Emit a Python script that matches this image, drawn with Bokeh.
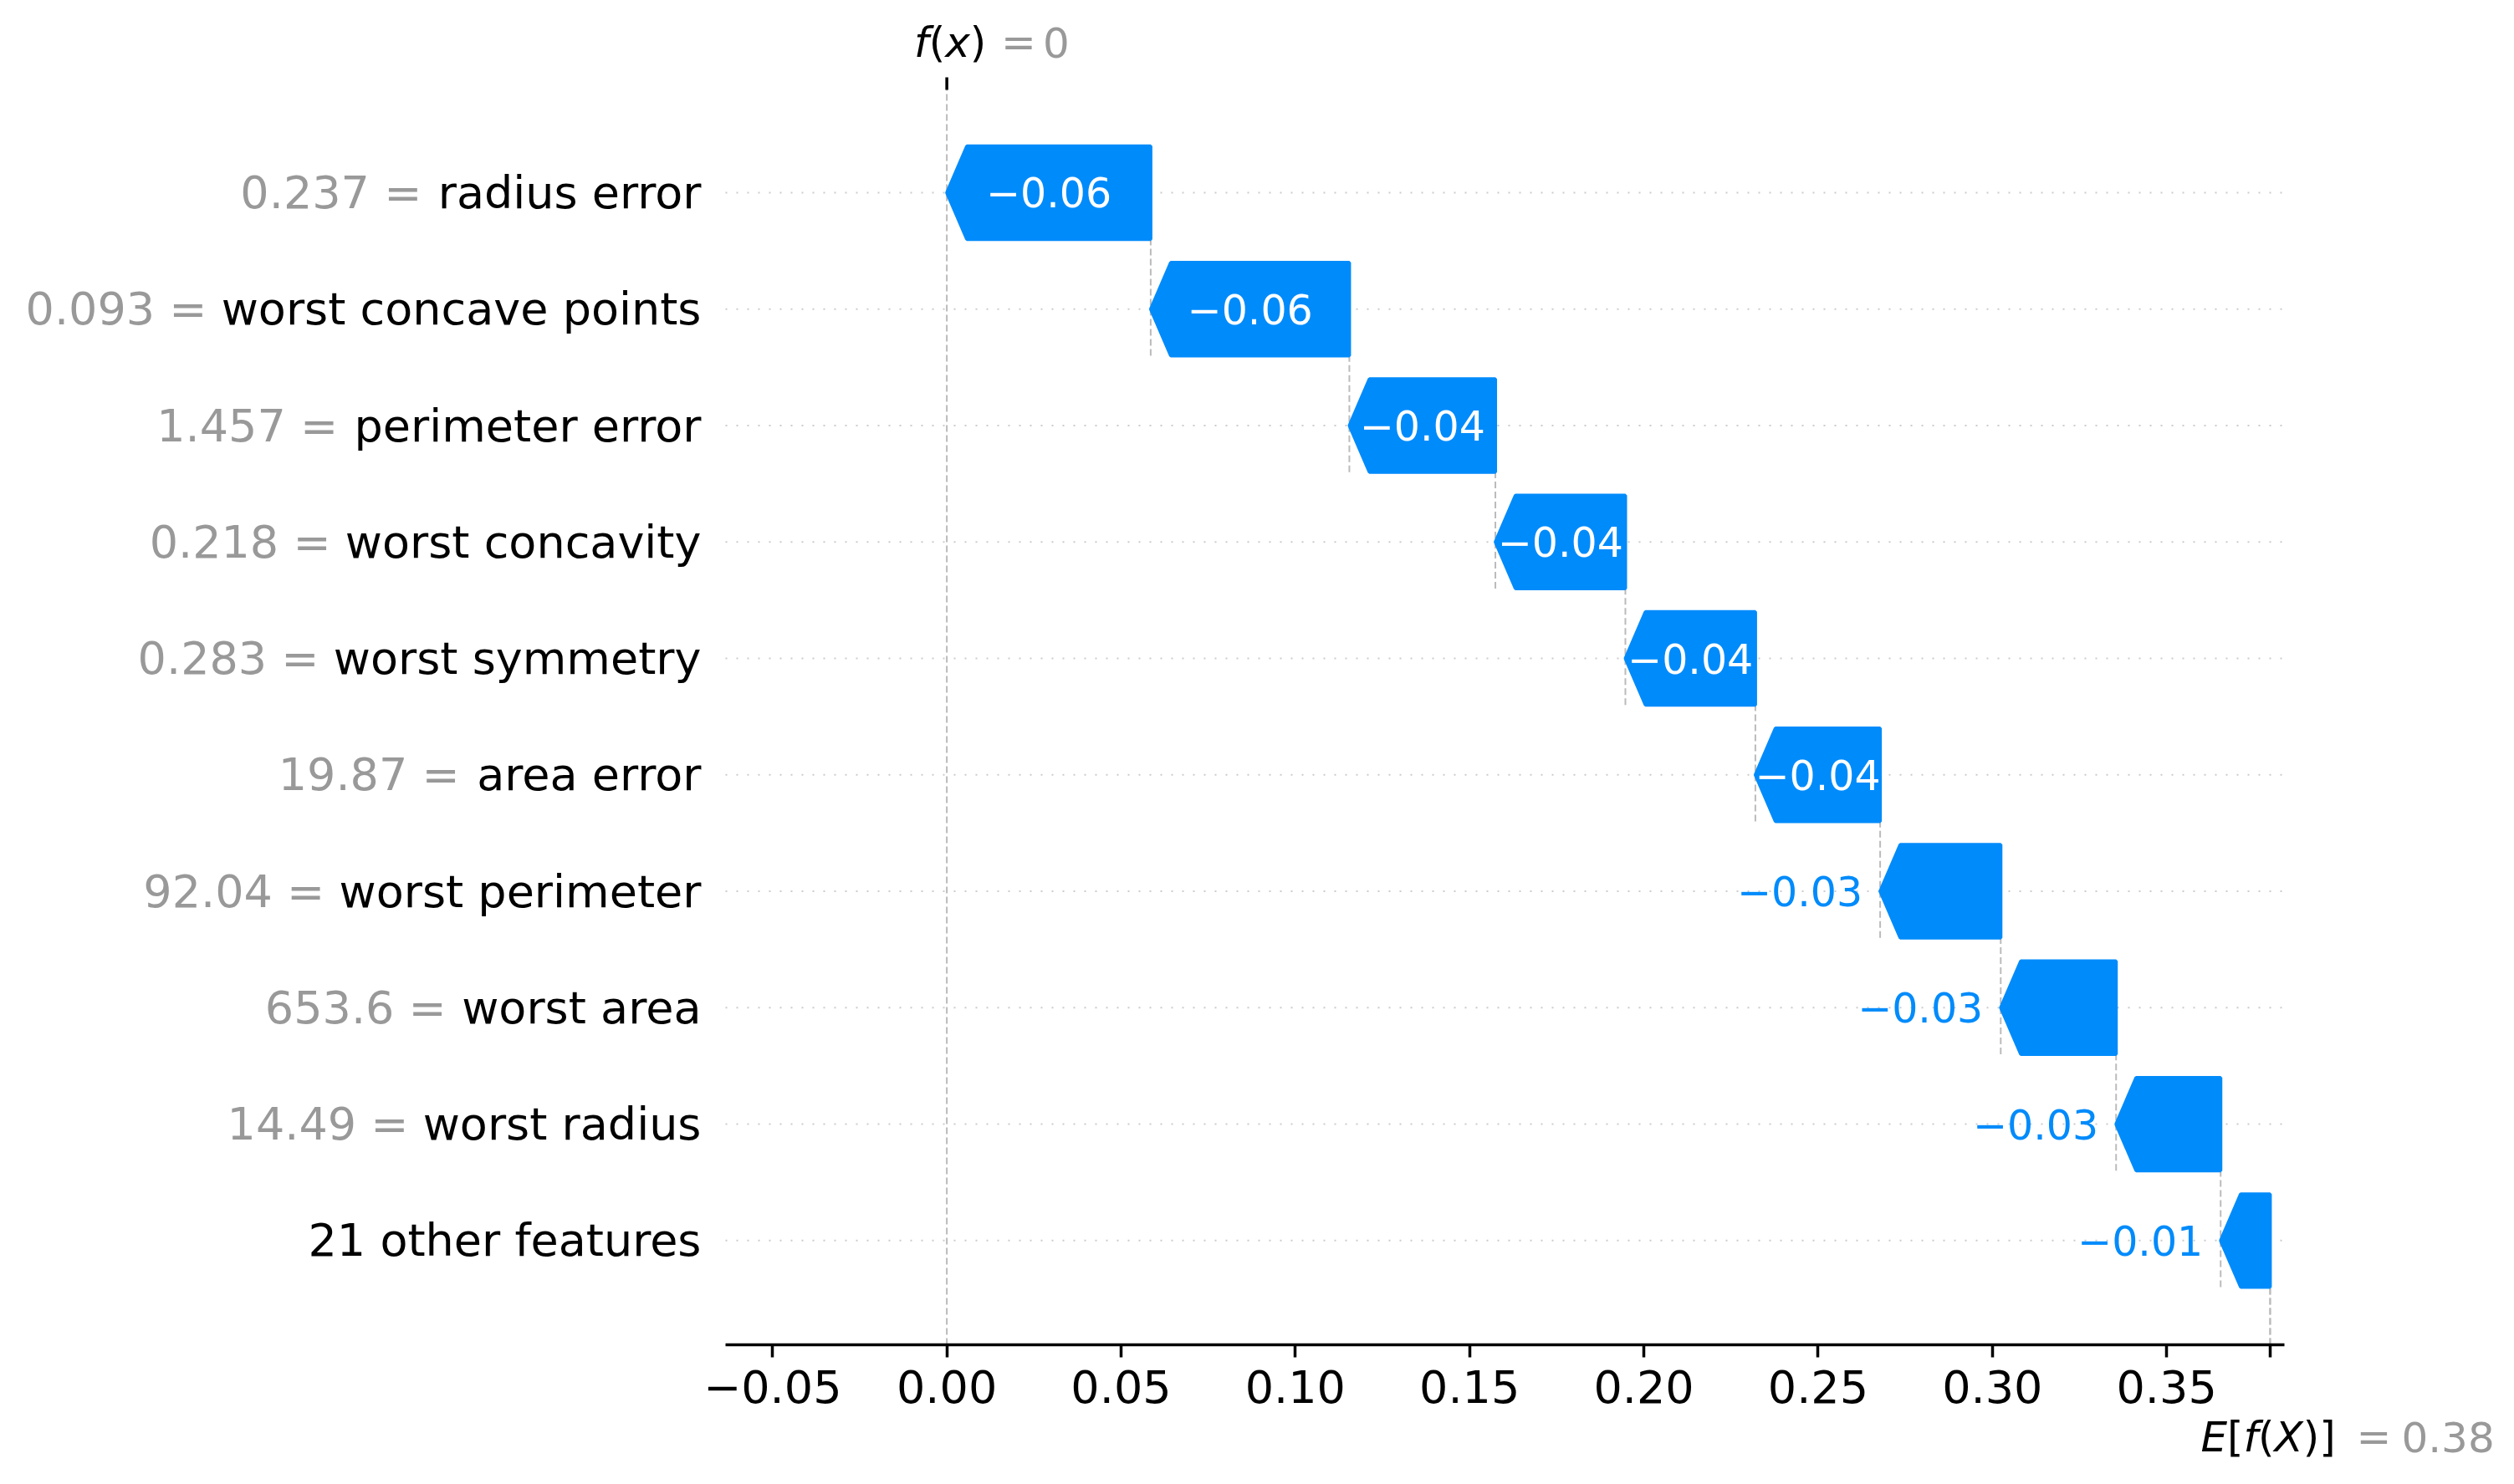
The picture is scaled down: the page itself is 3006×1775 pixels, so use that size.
from bokeh.plotting import figure
from bokeh.models import Range1d, FixedTicker
from bokeh.embed import file_html
from bokeh.resources import INLINE
from bokeh.core.properties import value

# ---------------- data ----------------
feature_names = ["radius error", "worst concave points", "perimeter error", "worst concavity",
                 "worst symmetry", "area error", "worst perimeter", "worst area",
                 "worst radius", "21 other features"]
feature_values = ["0.237", "0.093", "1.457", "0.218", "0.283", "19.87", "92.04", "653.6", "14.49", ""]
shap_values = [-0.0585, -0.0570, -0.0419, -0.0373, -0.0373, -0.0358, -0.0346, -0.0331, -0.0300, -0.0142]
base_value = 0.3797
x_tick_values = [-0.05, 0.0, 0.05, 0.10, 0.15, 0.20, 0.25, 0.30, 0.35]
x_tick_labels = ["\u22120.05", "0.00", "0.05", "0.10", "0.15", "0.20", "0.25", "0.30", "0.35"]

# ---------------- style / geometry ----------------
BLUE = "#008bfb"
GRAY = "#999999"
FONT = "DejaVu Sans"
W, H = 3006, 1775
AX_L, AX_R, AX_T, AX_B = 867, 2731, 107, 1608   # axes box in pixels
X0, X1 = -0.0635, 0.3838                         # axes x limits
Y0, Y1 = -0.895, 9.883                           # axes y limits
LABEL_PX = 54
BAR_TXT_PX = 49
MATH_PX = 50

px_per_x = (AX_R - AX_L) / (X1 - X0)
px_per_y = (AX_B - AX_T) / (Y1 - Y0)

# DejaVu Sans advance widths (1/2048 em)
_adv = {' ': 651, '.': 651, '=': 1716, '\u2212': 1716, '-': 739,
        '(': 799, ')': 799, '[': 799, ']': 799, 'E': 1294, 'X': 1401,
        'a': 1255, 'b': 1300, 'c': 1126, 'd': 1300, 'e': 1260, 'f': 721, 'g': 1300,
        'h': 1298, 'i': 569, 'j': 569, 'k': 1186, 'l': 569, 'm': 1995, 'n': 1298,
        'o': 1253, 'p': 1300, 'q': 1300, 'r': 842, 's': 1067, 't': 803, 'u': 1298,
        'v': 1212, 'w': 1675, 'x': 1212, 'y': 1212, 'z': 1075}
for d in "0123456789":
    _adv[d] = 1303


def text_width(s, size):
    return sum(_adv.get(c, 1200) for c in s) / 2048.0 * size


def fmt(v, f):
    s = f % v
    if "." in s:
        s = s.rstrip("0").rstrip(".")
    if s in ("-0", "+0"):
        s = "0"
    if s.startswith("-"):
        s = "\u2212" + s[1:]
    elif s.startswith("+"):
        s = s[1:]
    return s


n = len(feature_names)
rows = [n - 1 - i for i in range(n)]
starts = [0.0] * n
ends = [0.0] * n
loc = base_value
for i in reversed(range(n)):
    starts[i] = loc
    loc += shap_values[i]
    ends[i] = loc
fx = loc

# one figure whose frame spans the whole canvas; the x axis is fixed at the bottom limit
x_range = Range1d(X0 - AX_L / px_per_x, X0 + (W - AX_L) / px_per_x)
y_range = Range1d(Y0 - (H - AX_B) / px_per_y, Y1 + AX_T / px_per_y)
p = figure(width=W, height=H, output_backend="svg", toolbar_location=None,
           x_range=x_range, y_range=y_range, y_axis_location=None,
           min_border_left=0, min_border_right=0, min_border_top=0, min_border_bottom=0)
p.outline_line_color = None
p.xgrid.visible = False
p.ygrid.visible = False

# horizontal dotted row lines
p.segment(x0=[X0] * n, y0=rows, x1=[X1] * n, y1=rows, line_color="#cccccc",
          line_width=2, line_dash="2 11")

# connector dashed lines + base line + f(x) line
seg_x, seg_y0, seg_y1 = [], [], []
for i in range(n):
    seg_x.append(starts[i])
    seg_y0.append(max(Y0, rows[i] - 1 - 0.4))
    seg_y1.append(rows[i] + 0.4)
seg_x.append(base_value)
seg_y0.append(Y0)
seg_y1.append(Y0 + (Y1 - Y0) / n)
seg_x.append(fx)
seg_y0.append(Y0)
seg_y1.append(Y1)
p.segment(x0=seg_x, y0=seg_y0, x1=seg_x, y1=seg_y1, line_color="#bbbbbb",
          line_width=2, line_dash="8 4")

# top tick mark at f(x)
p.segment(x0=[fx], y0=[Y1], x1=[fx], y1=[Y1 + 15 / px_per_y], line_color="black", line_width=3.5)

# arrows
hl_data = 24.0 / px_per_x
xs, ys = [], []
for i in range(n):
    s, e, r = starts[i], ends[i], rows[i]
    d = 1 if e < s else -1
    hl = min(hl_data, abs(s - e))
    xs.append([s, e + d * hl, e, e + d * hl, s])
    ys.append([r + 0.4, r + 0.4, r, r - 0.4, r - 0.4])
p.patches(xs, ys, fill_color=BLUE, line_color=BLUE, line_width=4)

# bar value texts
in_x, in_y, in_t, out_x, out_y, out_t = [], [], [], [], [], []
for i in range(n):
    t = fmt(shap_values[i], "%+0.02f")
    bar_px = abs(shap_values[i]) * px_per_x
    if bar_px >= 0.97 * text_width(t, BAR_TXT_PX):
        in_x.append((starts[i] + ends[i]) / 2)
        in_y.append(rows[i])
        in_t.append(t)
    else:
        out_x.append(ends[i])
        out_y.append(rows[i])
        out_t.append(t)
p.text(x=in_x, y=in_y, text=in_t, text_color="white", text_align="center",
       text_baseline="middle", text_font=value(FONT), text_font_size=f"{BAR_TXT_PX}px")
p.text(x=out_x, y=out_y, text=out_t, text_color=BLUE, text_align="right",
       text_baseline="middle", text_font=value(FONT), text_font_size=f"{BAR_TXT_PX}px",
       x_offset=-21)

# y labels: gray "value =" + black feature name
PAD = 29
p.text(x=[X0] * n, y=rows, text=feature_names, x_offset=-PAD, text_align="right",
       text_baseline="middle", text_color="black", text_font=value(FONT),
       text_font_size=f"{LABEL_PX}px")
g_y, g_t, g_off = [], [], []
for i in range(n):
    if feature_values[i]:
        g_y.append(rows[i])
        g_t.append(feature_values[i] + " =")
        g_off.append(-(PAD + text_width(" " + feature_names[i], LABEL_PX)))
p.text(x=[X0] * len(g_y), y=g_y, text=g_t, x_offset=g_off, text_align="right",
       text_baseline="middle", text_color=GRAY, text_font=value(FONT),
       text_font_size=f"{LABEL_PX}px")


def math_label(x, y, pieces, start_off, eq_off, num_off, num_text):
    """pieces: list of (text, italic) drawn from start_off; then gray '=' and number."""
    off = start_off
    for txt, ital in pieces:
        p.text(x=[x], y=[y], text=[txt], x_offset=off, text_align="left",
               text_baseline="middle", text_color="black", text_font=value(FONT),
               text_font_style="italic" if ital else "normal", text_font_size=f"{MATH_PX}px")
        off += text_width(txt, MATH_PX)
    p.text(x=[x], y=[y], text=["="], x_offset=eq_off, text_align="left",
           text_baseline="middle", text_color=GRAY, text_font=value(FONT),
           text_font_size=f"{MATH_PX}px")
    p.text(x=[x], y=[y], text=[num_text], x_offset=num_off, text_align="left",
           text_baseline="middle", text_color=GRAY, text_font=value(FONT),
           text_font_size=f"{MATH_PX}px")


# f(x) label above the axes, E[f(X)] below the axis
math_label(fx, Y1 + 57 / px_per_y, [("f", True), ("(", False), ("x", True), (")", False)],
           -39, 65, 115, fmt(fx, "%0.03f"))
math_label(base_value, Y0 - 110 / px_per_y,
           [("E", True), ("[", False), ("f", True), ("(", False), ("X", True), (")", False), ("]", False)],
           -83, 103, 157, fmt(base_value, "%0.03f"))

# bottom axis, fixed at the lower y limit
xa = p.xaxis[0]
xa.fixed_location = Y0
xa.bounds = (X0, X1)
xa.ticker = FixedTicker(ticks=x_tick_values + [base_value])
ov = dict(zip(x_tick_values, x_tick_labels))
ov[base_value] = ""
xa.major_label_overrides = ov
xa.minor_tick_line_color = None
xa.major_tick_in = 0
xa.major_tick_out = 15
xa.major_tick_line_width = 3.5
xa.axis_line_width = 3.5
xa.major_tick_line_color = "black"
xa.axis_line_color = "black"
xa.major_label_text_font = FONT
xa.major_label_text_font_size = f"{LABEL_PX}px"
xa.major_label_text_color = "black"
xa.major_label_standoff = 15

open("out.html", "w").write(file_html(p, INLINE))
